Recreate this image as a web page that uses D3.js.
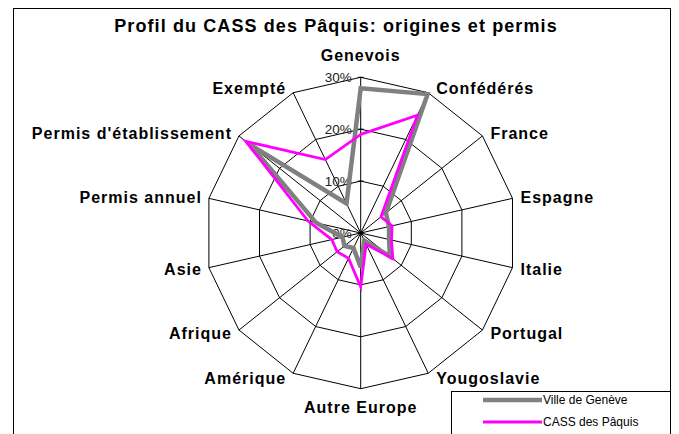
<!DOCTYPE html>
<html>
<head>
<meta charset="utf-8">
<script src="https://cdn.jsdelivr.net/npm/d3@7"></script>
<style>
  body { margin: 0; background: #fff; }
  svg { display: block; font-family: "Liberation Sans", Arial, sans-serif; }
</style>
</head>
<body>
<div id="chart"></div>
<script>
// Axes of the radar, clockwise from the top
const categories = [
    "Genevois", "Confédérés", "France", "Espagne", "Italie", "Portugal",
    "Yougoslavie", "Autre Europe", "Amérique", "Afrique", "Asie",
    "Permis annuel", "Permis d'établissement", "Exempté"
];

// Shares in %
const villeGeneve = [27.9, 29.7, 6.2, 5.6, 5.6, 7.2, 1.6, 6.6, 3.2, 4.0, 3.6, 8.8, 27.2, 6.3];
const cassPaquis = [19.0, 25.2, 5.0, 6.2, 6.1, 7.9, 2.4, 10.4, 5.4, 5.8, 5.7, 10.4, 28.3, 15.7];

const seriesNames = ["Ville de Genève", "CASS des Pâquis"];
const seriesColors = ["#808080", "#ff00ff"];
const tickValues = [0, 10, 20, 30];
const tickLabels = ["0%", "10%", "20%", "30%"];

const width = 679, height = 434;
const cx = 360.7, cy = 233, R = 155.7;

const svg = d3.select('#chart')
    .append('svg')
    .attr('width', width)
    .attr('height', height);

// chart frame (bottom edge runs off the picture)
svg.append('rect')
    .attr('x', 13.5).attr('y', 8.5)
    .attr('width', 657).attr('height', 450)
    .attr('fill', '#fff')
    .attr('stroke', '#000')
    .attr('stroke-width', 1);

svg.append('text')
    .attr('x', 336)
    .attr('y', 32)
    .attr('text-anchor', 'middle')
    .attr('font-size', '18px')
    .attr('font-weight', 'bold')
    .attr('letter-spacing', '1.1px')
    .text("Profil du CASS des Pâquis: origines et permis");

const n = categories.length;
const angle = d3.scaleLinear().domain([0, n]).range([0, 2 * Math.PI]);
const rScale = d3.scaleLinear().domain([0, 30]).range([0, R]);

const g = svg.append('g').attr('transform', `translate(${cx},${cy})`);

// rings
const ringLine = d3.lineRadial()
    .angle((d, i) => angle(i))
    .radius(d => rScale(d))
    .curve(d3.curveLinearClosed);

tickValues.filter(t => t > 0).forEach(t => {
    g.append('path')
        .attr('d', ringLine(categories.map(() => t)))
        .attr('fill', 'none')
        .attr('stroke', '#000')
        .attr('stroke-width', 1);
});

// spokes
categories.forEach((c, i) => {
    const a = angle(i);
    g.append('line')
        .attr('x1', 0).attr('y1', 0)
        .attr('x2', rScale(30) * Math.sin(a))
        .attr('y2', -rScale(30) * Math.cos(a))
        .attr('stroke', '#000')
        .attr('stroke-width', 1);
});

// tick marks and labels on the top axis
tickValues.forEach((t, i) => {
    g.append('line')
        .attr('x1', -3).attr('x2', 3)
        .attr('y1', -rScale(t)).attr('y2', -rScale(t))
        .attr('stroke', '#000');
    g.append('text')
        .attr('x', -9)
        .attr('y', -rScale(t))
        .attr('dy', '0.35em')
        .attr('text-anchor', 'end')
        .attr('font-size', '13.5px')
        .attr('fill', '#222')
        .text(tickLabels[i]);
});

// category labels
categories.forEach((c, i) => {
    const a = angle(i);
    const s = Math.sin(a), co = Math.cos(a);
    const ex = rScale(30) * s, ey = -rScale(30) * co;
    let x = ex, y, anchor = 'middle';
    if (Math.abs(s) < 0.01) {
        y = co > 0 ? ey - 22 : ey + 19;
    } else {
        anchor = s > 0 ? 'start' : 'end';
        x = ex + (s > 0 ? 8 : -7);
        y = ey - 5 * co;
    }
    g.append('text')
        .attr('x', x)
        .attr('y', y)
        .attr('dy', '0.36em')
        .attr('text-anchor', anchor)
        .attr('font-size', '16px')
        .attr('font-weight', 'bold')
        .attr('letter-spacing', '1px')
        .text(c);
});

// series
const seriesLine = d3.lineRadial()
    .angle((d, i) => angle(i))
    .radius(d => rScale(d))
    .curve(d3.curveLinearClosed);

[villeGeneve, cassPaquis].forEach((vals, k) => {
    g.append('path')
        .attr('d', seriesLine(vals))
        .attr('fill', 'none')
        .attr('stroke', seriesColors[k])
        .attr('stroke-width', k === 0 ? 4.5 : 2.8)
        .attr('stroke-linejoin', 'miter');
});

// legend
const legend = svg.append('g');
legend.append('rect')
    .attr('x', 451.5).attr('y', 391.5)
    .attr('width', 219).attr('height', 60)
    .attr('fill', '#fff')
    .attr('stroke', '#000');

seriesNames.forEach((name, k) => {
    const y = 400 + k * 22;
    legend.append('line')
        .attr('x1', 483).attr('x2', 542)
        .attr('y1', y).attr('y2', y)
        .attr('stroke', seriesColors[k])
        .attr('stroke-width', k === 0 ? 4.5 : 2.8);
    legend.append('text')
        .attr('x', 543)
        .attr('y', y)
        .attr('dy', '0.35em')
        .attr('font-size', '12px')
        .text(name);
});
</script>
</body>
</html>
